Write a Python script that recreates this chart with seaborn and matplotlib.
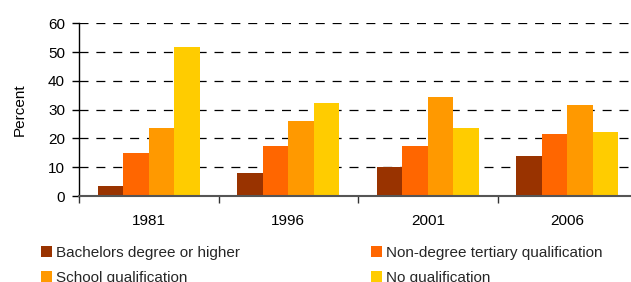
import matplotlib
matplotlib.use("Agg")
import matplotlib.pyplot as plt
import seaborn as sns
import pandas as pd
from matplotlib.patches import Patch

years = ["1981", "1996", "2001", "2006"]
series = ["Bachelors degree or higher", "Non-degree tertiary qualification",
          "School qualification", "No qualification"]
bachelors = [3.5, 8.0, 10.0, 13.9]
non_degree = [15.0, 17.4, 17.4, 21.5]
school = [23.6, 26.0, 34.4, 31.6]
no_qual = [51.7, 32.3, 23.6, 22.2]
colors = ["#993300", "#FF6600", "#FF9900", "#FFCC00"]

values = [bachelors, non_degree, school, no_qual]
rows = []
for s, vals in zip(series, values):
    for y, v in zip(years, vals):
        rows.append({"Year": y, "Series": s, "Percent": v})
df = pd.DataFrame(rows)

sns.set_theme(style="white")
plt.rcParams['font.family'] = ['Liberation Sans', 'DejaVu Sans']
FS = 11

fig = plt.figure(figsize=(6.31, 2.82), dpi=100)
ax = fig.add_axes([79/631, 1-196/282, (637-79)/631, (196-23.3)/282])

sns.barplot(data=df, x="Year", y="Percent", hue="Series", order=years,
            hue_order=series, palette=colors, width=0.73, saturation=1,
            ax=ax, legend=False, edgecolor="none", linewidth=0)

ax.set_ylim(0, 60)
ax.set_xlim(-0.5, 3.5)
ax.set_yticks(range(0, 61, 10))
ax.yaxis.grid(True, color="black", linestyle=(0, (7.2, 6.3)), linewidth=0.9)
ax.set_axisbelow(True)
for s in ["top", "right"]:
    ax.spines[s].set_visible(False)
ax.spines["left"].set_color("black")
ax.spines["left"].set_linewidth(1)
ax.spines["bottom"].set_color("#555555")
ax.spines["bottom"].set_linewidth(1.5)

ax.tick_params(axis="y", labelsize=FS, length=5, width=1, color="black",
               direction="out", left=True, pad=5, labelcolor="black")
ax.tick_params(axis="x", which="major", length=0, labelsize=FS, pad=13,
               labelcolor="black")
ax.set_xticks([-0.5, 0.5, 1.5, 2.5], minor=True)
ax.tick_params(axis="x", which="minor", length=5, width=1, color="#333333",
               direction="out", bottom=True)
ax.set_xlabel("")
ax.set_ylabel("Percent", fontsize=FS, color="black")
ax.yaxis.set_label_coords((27-79)/558, 0.5)

order = [0, 2, 1, 3]
handles = [Patch(facecolor=colors[i], edgecolor="none") for i in order]
labels = [series[i] for i in order]
fig.legend(handles, labels, ncol=2, loc="upper left",
           bbox_to_anchor=(41/631, 1-246/282),
           frameon=False, fontsize=FS, handlelength=0.72, handleheight=0.72,
           handletextpad=0.26, labelspacing=0.72, borderaxespad=0,
           borderpad=0, columnspacing=8.6)

fig.savefig("out.png", dpi=100)
